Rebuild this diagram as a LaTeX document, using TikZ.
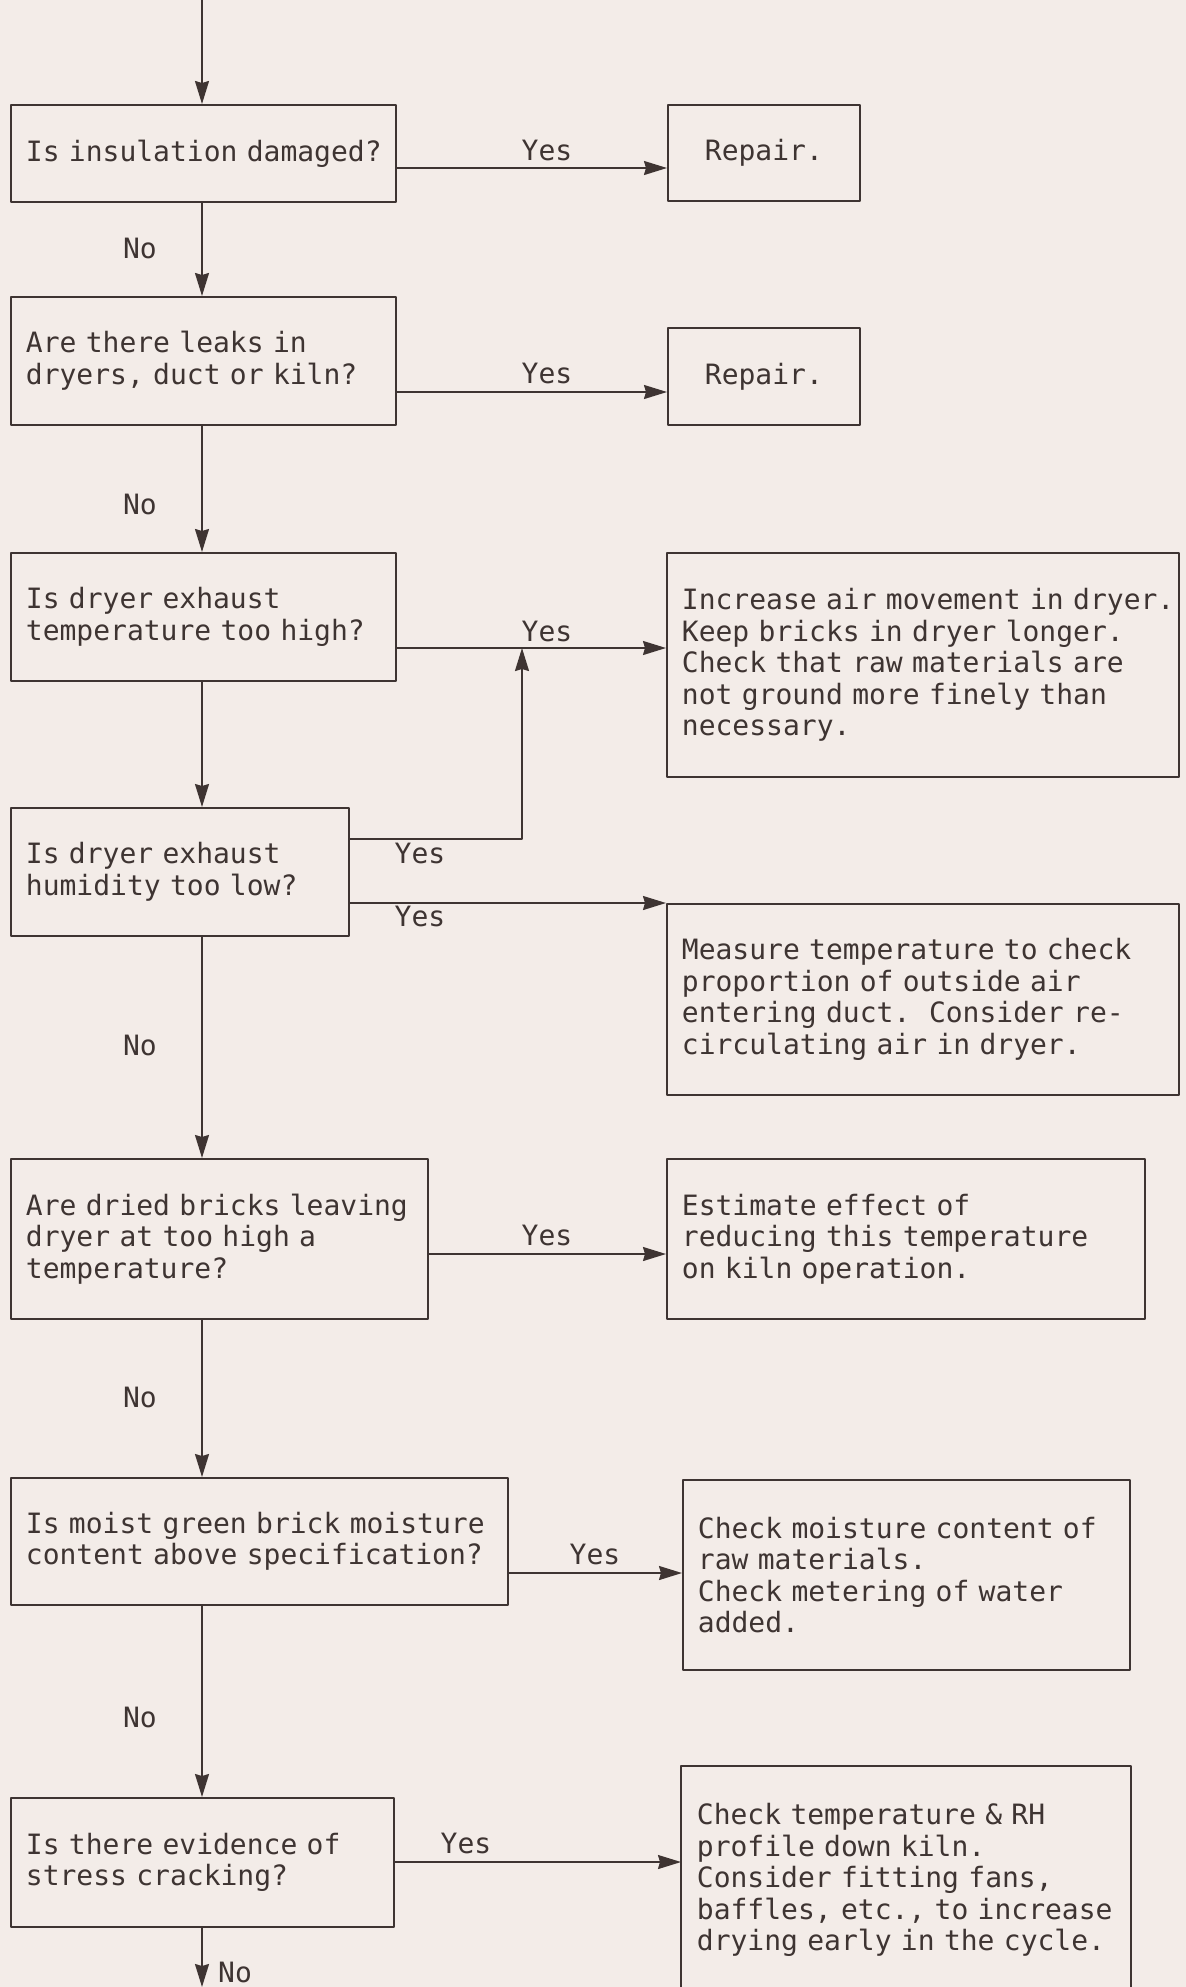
\documentclass[tikz,border=0pt]{standalone}
\usepackage{fontspec}
\setmonofont{DejaVu Sans Mono}
\usetikzlibrary{arrows.meta}

\definecolor{paper}{RGB}{243,236,232}
\definecolor{ink}{RGB}{62,52,50}

\tikzset{
  typed/.style={font=\ttfamily\fontsize{14}{15.75}\selectfont\frenchspacing},
  box/.style={draw=ink, text=ink, typed, anchor=north west, inner xsep=7.5pt, inner ysep=0pt, align=left},
  lbl/.style={text=ink, typed, anchor=base, inner sep=0pt},
  arr/.style={draw=ink, -{Stealth[length=11.5pt, width=7pt, inset=1pt]}},
}

\begin{document}
\begin{tikzpicture}[x=0.5pt, y=-0.5pt, line width=0.9pt, line cap=round, line join=round]

% Nen giay
\fill[paper] (0,0) rectangle (1186,1987);
\useasboundingbox (0,0) rectangle (1186,1987);

% Cac cau hoi (cot trai)
\node[box, text width=177.5pt, minimum height=48.5pt] (q1) at (10,104) {Is~insulation~damaged?};
\node[box, text width=177.5pt, minimum height=64pt] (q2) at (10,296) {Are there leaks in\\dryers, duct or kiln?};
\node[box, text width=177.5pt, minimum height=64pt] (q3) at (10,552) {Is dryer exhaust\\temperature too high?};
\node[box, text width=154pt, minimum height=64pt] (q4) at (10,807) {Is dryer exhaust\\humidity too low?};
\node[box, text width=193.5pt, minimum height=80pt] (q5) at (10,1158) {Are~dried~bricks~leaving\\dryer at too high a\\temperature?};
\node[box, text width=233.5pt, minimum height=63.5pt] (q6) at (10,1477) {Is~moist~green~brick~moisture\\content above specification?};
\node[box, text width=176.5pt, minimum height=64.5pt] (q7) at (10,1797) {Is there evidence of\\stress cracking?};

% Cac bien phap (cot phai)
\node[box, align=center, text width=81pt, minimum height=48pt] (r1) at (667,104) {Repair.};
\node[box, align=center, text width=81pt, minimum height=48.5pt] (r2) at (667,327) {Repair.};
\node[box, text width=241pt, minimum height=112pt] (a3) at (666,552) {Increase~air~movement~in~dryer.\\Keep bricks in dryer longer.\\Check that raw materials are\\not ground more finely than\\necessary.};
\node[box, text width=241pt, minimum height=95.5pt] (a4) at (666,903) {Measure temperature to check\\proportion of outside air\\entering duct.\ \ Consider re-\\circulating air in dryer.};
\node[box, text width=224pt, minimum height=80pt] (a5) at (666,1158) {Estimate effect of\\reducing this temperature\\on kiln operation.};
\node[box, text width=208.5pt, minimum height=95pt] (a6) at (682,1479) {Check moisture content of\\raw materials.\\Check metering of water\\added.};
\node[box, draw=none, text width=209pt, minimum height=113pt] (a7) at (681,1766) {Check temperature \& RH\\profile down kiln.\\Consider fitting fans,\\baffles,~etc.,~to~increase\\drying early in the cycle.};
\draw[ink] (a7.south west) -- (a7.north west) -- (a7.north east) -- (a7.south east); % hop mo o day

% Truc doc "No"
\coordinate (spine) at (202,0);
\coordinate (bottom) at (202,1987);
\draw[arr] (spine) -- (q1.north -| spine);
\draw[arr] (q1.south -| spine) -- (q2.north -| spine);
\draw[arr] (q2.south -| spine) -- (q3.north -| spine);
\draw[arr] (q3.south -| spine) -- (q4.north -| spine);
\draw[arr] (q4.south -| spine) -- (q5.north -| spine);
\draw[arr] (q5.south -| spine) -- (q6.north -| spine);
\draw[arr] (q6.south -| spine) -- (q7.north -| spine);
\draw[arr] (q7.south -| spine) -- (bottom);

% Cac nhanh "Yes"
\coordinate (y1) at (0,168);
\coordinate (y2) at (0,392);
\coordinate (y3) at (0,648);
\coordinate (y4) at (0,839);
\coordinate (y5) at (0,1254);
\coordinate (y6) at (0,1573);
\coordinate (y7) at (0,1862);
\coordinate (join) at (522,648);

\draw[arr] (q1.east |- y1) -- (r1.west |- y1);
\draw[arr] (q2.east |- y2) -- (r2.west |- y2);
\draw[arr] (q3.east |- y3) -- (a3.west |- y3);
\draw[arr] (q4.east |- y4) -| (join);
\draw[arr] (q4.east |- a4.north) -- (a4.north west);
\draw[arr] (q5.east |- y5) -- (a5.west |- y5);
\draw[arr] (q6.east |- y6) -- (a6.west |- y6);
\draw[arr] (q7.east |- y7) -- (a7.west |- y7);

% Nhan
\node[lbl] (yes1) at (547,160) {Yes};
\node[lbl] (no1) at (140,258) {No};
\node[lbl] (yes2) at (547,383) {Yes};
\node[lbl] (no2) at (140,514) {No};
\node[lbl] (yes3) at (547,641) {Yes};
\node[lbl] (yes4a) at (420,863) {Yes};
\node[lbl] (yes4b) at (420,926) {Yes};
\node[lbl] (no4) at (140,1055) {No};
\node[lbl] (yes5) at (547,1245) {Yes};
\node[lbl] (no5) at (140,1407) {No};
\node[lbl] (yes6) at (595,1564) {Yes};
\node[lbl] (no6) at (140,1727) {No};
\node[lbl] (yes7) at (466,1853) {Yes};
\node[lbl] (no7) at (235,1982) {No};

\end{tikzpicture}
\end{document}
